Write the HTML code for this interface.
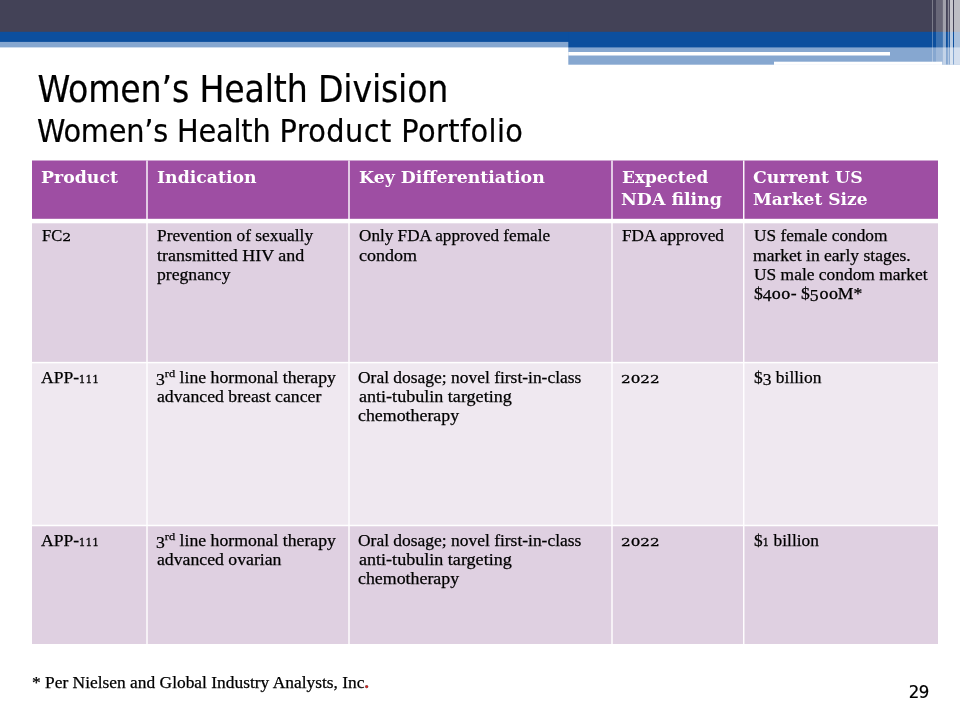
<!DOCTYPE html>
<html lang="en">
<head>
<meta charset="utf-8">
<title>Women’s Health Division</title>
<style>
html,body{margin:0;padding:0;}
body{width:960px;height:720px;position:relative;overflow:hidden;background:#fff;font-family:"Liberation Serif",serif;color:#000;}
.abs{position:absolute;}
.ti{font-family:"DejaVu Sans Condensed","DejaVu Sans","Liberation Sans",sans-serif;font-stretch:condensed;white-space:nowrap;-webkit-text-stroke:0.2px #000;}
#t1{left:37.5px;top:67.8px;font-size:36.9px;line-height:44px;letter-spacing:-0.15px;}
#t2{left:37px;top:111.6px;font-size:32px;line-height:38px;}
.hd{position:absolute;color:#fff;font-family:"DejaVu Serif","Liberation Serif",serif;font-weight:bold;font-size:17.5px;line-height:22.0px;white-space:nowrap;transform-origin:0 0;}
.bd{position:absolute;font-family:"Liberation Serif",serif;font-size:16.25px;line-height:20.0px;white-space:nowrap;transform-origin:0 0;-webkit-text-stroke:0.25px #000;}
.os,.o1{display:inline-block;font-family:"DejaVu Serif","Liberation Serif",serif;font-size:11.4px;line-height:1;transform-origin:0 50%;-webkit-text-stroke:0.3px #000;}
.os{transform:scaleX(1.21);margin-right:0.134em;}
.o1{transform:scaleX(0.86);margin-right:-0.09em;}
.od{position:relative;top:2.5px;line-height:1;}
sup{font-size:0.7em;vertical-align:baseline;position:relative;top:-0.5em;line-height:0;}
#pg{left:908.8px;top:680.6px;font-size:18.4px;line-height:22px;letter-spacing:-0.6px;}
</style>
</head>
<body>
<svg class="abs" style="left:0;top:0" width="960" height="720" viewBox="0 0 960 720">
<rect x="568.3" y="0" width="391.7" height="64.7" fill="#86a7d0"/>
<rect x="0" y="0" width="570" height="47.4" fill="#86a7d0"/>
<rect x="0" y="0" width="960" height="41.9" fill="#0c4f9e"/>
<rect x="568.3" y="0" width="391.7" height="47.4" fill="#0c4f9e"/>
<rect x="0" y="0" width="960" height="31.8" fill="#434257"/>
<rect x="568.3" y="52" width="321.7" height="3.5" fill="#fff"/>
<rect x="932" y="0" width="1" height="64.7" fill="#fff" opacity="0.3"/>
<rect x="936" y="0" width="6.8" height="64.7" fill="#fff" opacity="0.2"/>
<rect x="942.8" y="0" width="3.2" height="64.7" fill="#fff" opacity="0.5"/>
<rect x="947.8" y="0" width="1.4" height="64.7" fill="#fff" opacity="0.4"/>
<rect x="950" y="0" width="3" height="64.7" fill="#fff" opacity="0.7"/>
<rect x="954" y="0" width="6" height="64.7" fill="#fff" opacity="0.65"/>
<rect x="774" y="61.7" width="168.2" height="3.2" fill="#fff"/>
<rect x="32" y="160.5" width="906" height="60.5" fill="#9e4ea3"/>
<rect x="32" y="221" width="906" height="141.60000000000002" fill="#dfd0e1"/>
<rect x="32" y="362.6" width="906" height="162.89999999999998" fill="#efe8f0"/>
<rect x="32" y="525.5" width="906" height="118.5" fill="#dfd0e1"/>
<rect x="146.3" y="160.5" width="1.4" height="483.5" fill="#fff"/>
<rect x="348.3" y="160.5" width="1.4" height="483.5" fill="#fff"/>
<rect x="611.3" y="160.5" width="1.4" height="483.5" fill="#fff"/>
<rect x="743.05" y="160.5" width="1.4" height="483.5" fill="#fff"/>
<rect x="32" y="218.8" width="906" height="4.5" fill="#fff"/>
<rect x="32" y="361.85" width="906" height="1.5" fill="#fff"/>
<rect x="32" y="524.75" width="906" height="1.5" fill="#fff"/>
</svg>
<div id="t1" class="abs ti">Women’s Health Division</div>
<div id="t2" class="abs ti"><span style="letter-spacing:-0.18px">Women’s Health </span><span style="letter-spacing:0.43px">Product Portfolio</span></div>
<div class="hd" style="left:40.85px;top:165.94px;transform:scaleX(0.9906)">Product</div>
<div class="hd" style="left:156.60px;top:165.94px;transform:scaleX(0.9877)">Indication</div>
<div class="hd" style="left:358.60px;top:165.94px;transform:scaleX(0.9889)">Key Differentiation</div>
<div class="hd" style="left:622.07px;top:165.94px;transform:scaleX(0.9658)">Expected</div>
<div class="hd" style="left:621.33px;top:187.94px;transform:scaleX(0.9914)">NDA filing</div>
<div class="hd" style="left:752.60px;top:165.94px;transform:scaleX(0.9878)">Current US</div>
<div class="hd" style="left:752.96px;top:187.94px;transform:scaleX(0.9724)">Market Size</div>
<div class="bd" style="left:41.69px;top:225.52px;transform:scaleX(1.0177)">FC<span class="os" style="margin-right:0.134em">2</span></div>
<div class="bd" style="left:156.71px;top:225.52px;transform:scaleX(1.0674)">Prevention of sexually</div>
<div class="bd" style="left:156.70px;top:245.52px;transform:scaleX(1.1050)">transmitted HIV and</div>
<div class="bd" style="left:157.01px;top:264.52px;transform:scaleX(1.0860)">pregnancy</div>
<div class="bd" style="left:358.83px;top:225.52px;transform:scaleX(1.0556)">Only FDA approved female</div>
<div class="bd" style="left:358.80px;top:245.52px;transform:scaleX(1.1081)">condom</div>
<div class="bd" style="left:622.19px;top:225.52px;transform:scaleX(1.0599)">FDA approved</div>
<div class="bd" style="left:753.56px;top:225.52px;transform:scaleX(1.0634)">US female condom</div>
<div class="bd" style="left:753.49px;top:245.52px;transform:scaleX(1.0785)">market in early stages.</div>
<div class="bd" style="left:753.56px;top:264.52px;transform:scaleX(1.0714)">US male condom market</div>
<div class="bd" style="left:753.81px;top:283.52px;transform:scaleX(1.0867)">$<span class="od">4</span><span class="os" style="margin-right:0.268em">00</span>- $<span class="od">5</span><span class="os" style="margin-right:0.268em">00</span>M*</div>
<div class="bd" style="left:40.96px;top:367.52px;transform:scaleX(1.0819)">APP-<span class="o1" style="margin-right:-0.270em">111</span></div>
<div class="bd" style="left:156.12px;top:367.52px;transform:scaleX(1.0892)"><span class="od">3</span><sup>rd</sup> line hormonal therapy</div>
<div class="bd" style="left:156.59px;top:386.52px;transform:scaleX(1.0905)">advanced breast cancer</div>
<div class="bd" style="left:358.36px;top:367.52px;transform:scaleX(1.0736)">Oral dosage; novel first-in-class</div>
<div class="bd" style="left:358.57px;top:386.52px;transform:scaleX(1.1122)">anti-tubulin targeting</div>
<div class="bd" style="left:358.38px;top:405.52px;transform:scaleX(1.0983)">chemotherapy</div>
<div class="bd" style="left:620.91px;top:367.52px;transform:scaleX(1.0997)"><span class="os" style="margin-right:0.536em">2022</span></div>
<div class="bd" style="left:754.29px;top:367.52px;transform:scaleX(1.0736)">$<span class="od">3</span> billion</div>
<div class="bd" style="left:40.96px;top:530.52px;transform:scaleX(1.0818)">APP-<span class="o1" style="margin-right:-0.270em">111</span></div>
<div class="bd" style="left:156.12px;top:530.52px;transform:scaleX(1.0893)"><span class="od">3</span><sup>rd</sup> line hormonal therapy</div>
<div class="bd" style="left:156.59px;top:549.52px;transform:scaleX(1.0904)">advanced ovarian</div>
<div class="bd" style="left:358.36px;top:530.52px;transform:scaleX(1.0736)">Oral dosage; novel first-in-class</div>
<div class="bd" style="left:358.57px;top:549.52px;transform:scaleX(1.1121)">anti-tubulin targeting</div>
<div class="bd" style="left:358.37px;top:568.52px;transform:scaleX(1.0984)">chemotherapy</div>
<div class="bd" style="left:620.91px;top:530.52px;transform:scaleX(1.0995)"><span class="os" style="margin-right:0.536em">2022</span></div>
<div class="bd" style="left:754.31px;top:530.52px;transform:scaleX(1.0650)">$<span class="o1" style="margin-right:-0.090em">1</span> billion</div>
<div class="bd" style="left:31.60px;top:672.52px;transform:scaleX(1.0707)">* Per Nielsen and Global Industry Analysts, Inc<span style="color:#e0201c;font-weight:bold">.</span></div>
<div id="pg" class="abs ti">29</div>
</body>
</html>
